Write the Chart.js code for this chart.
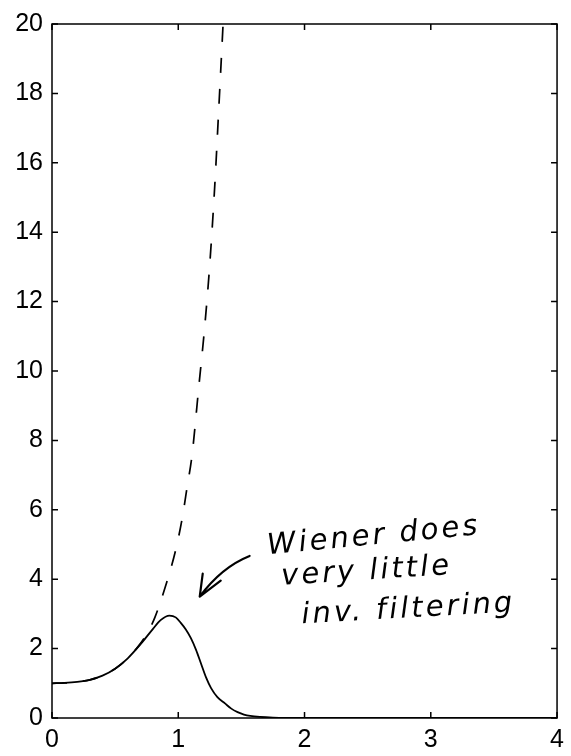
<!DOCTYPE html>
<html>
<head>
<meta charset="utf-8">
<script src="https://cdn.jsdelivr.net/npm/chart.js@4.4.1/dist/chart.umd.min.js"></script>
<style>
  html, body { margin: 0; padding: 0; background: #fff; }
</style>
</head>
<body>
<canvas id="filterChart" width="571" height="756"></canvas>
<script>
// frequency / gain
const FREQ_WIENER = [0, 0.1, 0.2, 0.3, 0.4, 0.5, 0.6, 0.7, 0.8, 0.86, 0.93, 0.98, 1.02, 1.06, 1.1, 1.14, 1.18, 1.22, 1.26, 1.31, 1.37, 1.42, 1.47, 1.52, 1.57, 1.65, 1.75, 1.9, 2.1, 3, 4];
const GAIN_WIENER = [1.0, 1.01, 1.04, 1.1, 1.22, 1.42, 1.72, 2.12, 2.57, 2.82, 2.95, 2.9, 2.74, 2.55, 2.3, 1.97, 1.57, 1.17, 0.86, 0.6, 0.42, 0.27, 0.17, 0.1, 0.06, 0.03, 0.012, 0.004, 0, 0, 0];

const FREQ_INVERSE = [0, 0.1, 0.2, 0.3, 0.4, 0.5, 0.6, 0.68, 0.75, 0.815, 0.91, 0.98, 1.03, 1.07, 1.11, 1.16, 1.21, 1.25, 1.29, 1.32, 1.355];
const GAIN_INVERSE = [1.0, 1.01, 1.04, 1.1, 1.22, 1.42, 1.72, 2.05, 2.42, 2.9, 3.93, 4.85, 5.73, 6.65, 7.6, 9.45, 11.3, 13.1, 15.4, 17.5, 20];

const X_TICKS = [0, 1, 2, 3, 4];
const Y_TICKS = [0, 2, 4, 6, 8, 10, 12, 14, 16, 18, 20];
const NOTE_LINES = ['Wiener does', 'very little', 'inv. filtering'];

const toPoints = (xs, ys) => xs.map((x, i) => ({ x: x, y: ys[i] }));

// box round the plot with small inward ticks on all four sides
const frameTicks = {
  id: 'frameTicks',
  afterDraw(chart) {
    const c = chart.ctx;
    const a = chart.chartArea;
    const xs = chart.scales.x;
    const ys = chart.scales.y;
    const len = 6;
    c.save();
    c.strokeStyle = '#000';
    c.lineWidth = 1.5;
    c.strokeRect(a.left, a.top, a.right - a.left, a.bottom - a.top);
    c.beginPath();
    X_TICKS.forEach(v => {
      const px = xs.getPixelForValue(v);
      c.moveTo(px, a.bottom); c.lineTo(px, a.bottom - len);
      c.moveTo(px, a.top); c.lineTo(px, a.top + len);
    });
    Y_TICKS.forEach(v => {
      const py = ys.getPixelForValue(v);
      c.moveTo(a.left, py); c.lineTo(a.left + len, py);
      c.moveTo(a.right, py); c.lineTo(a.right - len, py);
    });
    c.stroke();
    c.restore();
  }
};

// the handwritten note and its arrow
const note = {
  id: 'note',
  afterDraw(chart) {
    const c = chart.ctx;
    const xs = chart.scales.x;
    const ys = chart.scales.y;
    const P = (x, y) => [xs.getPixelForValue(x), ys.getPixelForValue(y)];
    const anchors = [[1.71, 4.72, -5.4], [1.82, 3.84, -3.6], [1.98, 2.73, -3.2]];
    c.save();
    c.fillStyle = '#000';
    c.font = 'italic 29px "DejaVu Sans"';
    c.textBaseline = 'alphabetic';
    c.letterSpacing = '3px';
    NOTE_LINES.forEach((txt, i) => {
      const [px, py] = P(anchors[i][0], anchors[i][1]);
      c.save();
      c.translate(px, py);
      c.rotate(anchors[i][2] * Math.PI / 180);
      c.fillText(txt, 0, 0);
      c.restore();
    });
    // arrow
    const tail = P(1.565, 4.67);
    const ctrl = P(1.344, 4.35);
    const tip = P(1.17, 3.5);
    c.strokeStyle = '#000';
    c.lineWidth = 2.2;
    c.lineCap = 'round';
    c.beginPath();
    c.moveTo(tail[0], tail[1]);
    c.quadraticCurveTo(ctrl[0], ctrl[1], tip[0], tip[1]);
    c.moveTo(tip[0], tip[1]); c.lineTo(tip[0] + 3, tip[1] - 23);
    c.moveTo(tip[0], tip[1]); c.lineTo(tip[0] + 21, tip[1] - 16);
    c.stroke();
    c.restore();
  }
};

const ctx = document.getElementById('filterChart').getContext('2d');
const filterChart = new Chart(ctx, {
  type: 'scatter',
  data: {
    datasets: [{
      label: 'Inverse filter',
      data: toPoints(FREQ_INVERSE, GAIN_INVERSE),
      showLine: true,
      borderColor: '#000',
      borderWidth: 1.7,
      borderDash: [15, 16],
      pointRadius: 0,
      cubicInterpolationMode: 'monotone',
      fill: false
    }, {
      label: 'Wiener filter',
      data: toPoints(FREQ_WIENER, GAIN_WIENER),
      showLine: true,
      borderColor: '#000',
      borderWidth: 1.8,
      pointRadius: 0,
      cubicInterpolationMode: 'monotone',
      fill: false
    }]
  },
  options: {
    responsive: false,
    animation: false,
    layout: { padding: { top: 15, right: 13, left: 0, bottom: 0 } },
    plugins: {
      legend: { display: false },
      tooltip: { enabled: false }
    },
    scales: {
      x: {
        type: 'linear',
        min: 0,
        max: 4,
        afterFit: s => { s.height = 38; },
        afterBuildTicks: s => { s.ticks = X_TICKS.map(v => ({ value: v })); },
        ticks: { color: '#000', padding: 7, font: { family: '"Liberation Sans", Arial', size: 25 } },
        grid: { display: false, drawTicks: false },
        border: { display: false }
      },
      y: {
        type: 'linear',
        min: 0,
        max: 20,
        afterFit: s => { s.width = 52; },
        afterBuildTicks: s => { s.ticks = Y_TICKS.map(v => ({ value: v })); },
        ticks: { color: '#000', padding: 9, font: { family: '"Liberation Sans", Arial', size: 25 } },
        grid: { display: false, drawTicks: false },
        border: { display: false }
      }
    }
  },
  plugins: [frameTicks, note]
});
</script>
</body>
</html>
